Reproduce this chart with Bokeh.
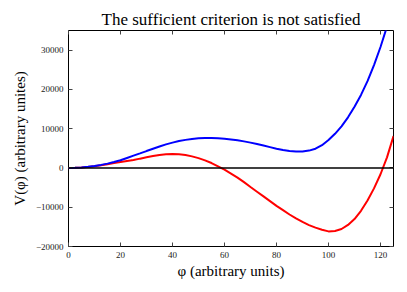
from bokeh.plotting import figure
from bokeh.models import Span, LinearAxis, FixedTicker, CustomJSTickFormatter, Range1d
from bokeh.embed import file_html
from bokeh.resources import INLINE

# data
phi_blue = [0, 2.5, 5, 7.5, 10, 12.5, 15, 17.5, 20, 22.5, 25, 27.5, 30, 32.5, 35, 37.5, 40, 42.5, 45, 47.5,
            50, 52.5, 55, 57.5, 60, 62.5, 65, 67.5, 70, 72.5, 75, 77.5, 80, 82.5, 85, 87.5, 90, 92.5, 95, 97.5,
            100, 102.5, 105, 107.5, 110, 112.5, 115, 117.5, 120, 122.5]
v_blue = [0, 30, 120, 280, 500, 780, 1100, 1500, 1950, 2540, 3130, 3710, 4300, 4880, 5450, 6000, 6450, 6850, 7150, 7390,
          7540, 7620, 7620, 7560, 7450, 7270, 7050, 6770, 6450, 6080, 5700, 5300, 4900, 4560, 4290, 4160, 4180, 4420, 4900, 5800,
          7100, 8700, 10600, 12900, 15600, 18600, 22100, 26200, 30800, 36000]

phi_red = [0, 2.5, 5, 7.5, 10, 12.5, 15, 17.5, 20, 22.5, 25, 27.5, 30, 32.5, 35, 37.5, 40, 42.5, 45, 47.5,
           50, 52.5, 55, 57.5, 60, 62.5, 65, 67.5, 70, 72.5, 75, 77.5, 80, 82.5, 85, 87.5, 90, 92.5, 95, 97.5,
           100, 102.5, 105, 107.5, 110, 112.5, 115, 117.5, 120, 122.5, 125]
v_red = [0, 25, 110, 260, 450, 690, 950, 1230, 1500, 1760, 2000, 2370, 2720, 3030, 3300, 3480, 3540, 3470, 3280, 2950,
         2500, 1930, 1250, 420, -450, -1420, -2450, -3620, -4850, -6050, -7250, -8450, -9650, -10750, -11850, -12850, -13750, -14550, -15200, -15750,
         -16150, -16050, -15550, -14500, -13000, -10900, -8300, -5200, -1600, 2700, 8100]

x_ticks = [0, 20, 40, 60, 80, 100, 120]
y_ticks = [-20000, -10000, 0, 10000, 20000, 30000]

title_text = "The sufficient criterion is not satisfied"
x_label = "φ (arbitrary units)"
y_label = "V(φ) (arbitrary unites)"

SERIF = "Liberation Serif"

p = figure(width=395, height=278, output_backend="svg", toolbar_location=None,
           x_range=Range1d(0, 125), y_range=Range1d(-20000, 35000),
           min_border_left=68, min_border_right=2, min_border_top=30, min_border_bottom=32,
           title=title_text)
p.frame_width = 325
p.frame_height = 216

p.title.text_font = SERIF
p.title.text_font_size = "17px"
p.title.text_font_style = "normal"
p.title.align = "center"
p.title.text_color = "black"
p.title.standoff = 3

p.grid.visible = False
p.outline_line_color = "black"
p.outline_line_width = 1
p.background_fill_color = "white"
p.border_fill_color = "white"

fmt = CustomJSTickFormatter(code="return tick < 0 ? '\u2212' + Math.abs(tick) : tick.toString();")
blank = CustomJSTickFormatter(code="return '';")

xax = p.xaxis[0]
yax = p.yaxis[0]
xax.ticker = FixedTicker(ticks=x_ticks)
xax.axis_label = x_label
yax.ticker = FixedTicker(ticks=y_ticks)
yax.axis_label = y_label
yax.formatter = fmt

top = LinearAxis(ticker=FixedTicker(ticks=x_ticks), formatter=blank)
right = LinearAxis(ticker=FixedTicker(ticks=y_ticks), formatter=blank)
p.add_layout(top, "above")
p.add_layout(right, "right")

for ax in [xax, yax, top, right]:
    ax.major_tick_in = 4
    ax.major_tick_out = 0
    ax.minor_tick_in = 0
    ax.minor_tick_out = 0
    ax.axis_line_color = None
    ax.major_tick_line_color = "#444444"
    ax.major_label_text_font = SERIF
    ax.major_label_text_font_size = "9px"
    ax.major_label_text_color = "#222222"
    ax.axis_label_text_font = SERIF
    ax.axis_label_text_font_size = "15px"
    ax.axis_label_text_font_style = "normal"
    ax.axis_label_text_color = "black"

for ax in [top, right]:
    ax.major_label_standoff = 0

xax.major_label_standoff = 5
yax.major_label_standoff = 5
xax.axis_label_standoff = 2
yax.axis_label_standoff = 5

p.add_layout(Span(location=0, dimension="width", line_color="black", line_width=1.5))
p.line(phi_red, v_red, line_color="#ff0000", line_width=2)
p.line(phi_blue, v_blue, line_color="#0000ff", line_width=2)

open("out.html", "w").write(file_html(p, INLINE))
